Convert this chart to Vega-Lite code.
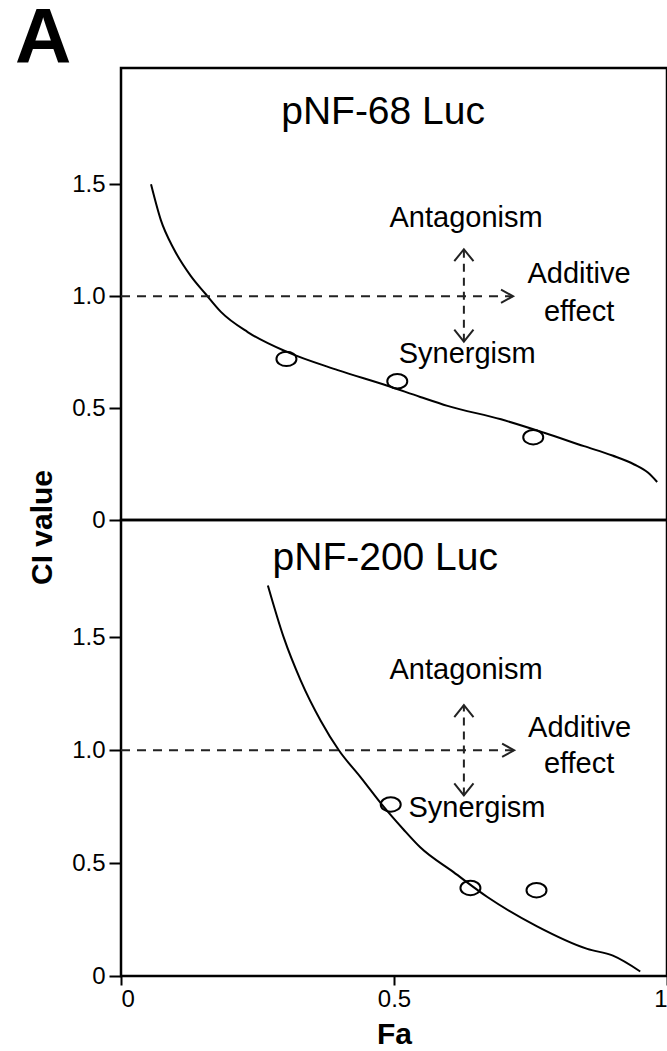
{
 "$schema": "https://vega.github.io/schema/vega-lite/v6.json",
 "background": "white",
 "padding": {"left": 15, "top": 0, "right": 0, "bottom": 0},
 "title": {"text": "A", "anchor": "start", "frame": "group", "fontSize": 78, "fontWeight": "bold", "font": "Arial", "color": "black", "dx": -106, "offset": -12},
 "config": {
   "view": {"stroke": "black", "strokeWidth": 2.5},
   "axis": {"domain": false, "grid": false, "ticks": true, "tickColor": "black", "tickWidth": 2, "labelFont": "Arial", "labelFontSize": 24, "labelColor": "black", "titleFont": "Arial", "titleFontSize": 30, "titleFontWeight": "bold", "titleColor": "black"},
   "text": {"font": "Arial", "color": "black"}
 },
 "spacing": 0,
 "bounds": "flush",
 "vconcat": [
  {
   "width": 546, "height": 452,
   "encoding": {
     "x": {"field": "x", "type": "quantitative", "scale": {"domain": [0, 1], "nice": false, "zero": false}, "axis": null},
     "y": {"field": "y", "type": "quantitative", "scale": {"domain": [0, 2.02], "nice": false}, "axis": {"values": [0, 0.5, 1, 1.5], "labelExpr": "datum.value == 0 ? '0' : format(datum.value, '.1f')", "tickSize": 12, "labelPadding": 4, "title": "CI value", "titleX": -64, "titleY": 459, "titleAngle": 270, "titleAlign": "center", "titleBaseline": "bottom"}}
   },
   "layer": [
    {"data": {"values": [
      {"x": 0.055, "y": 1.50}, {"x": 0.073, "y": 1.34}, {"x": 0.097, "y": 1.21}, {"x": 0.128, "y": 1.09},
      {"x": 0.155, "y": 1.01}, {"x": 0.183, "y": 0.93}, {"x": 0.232, "y": 0.84}, {"x": 0.305, "y": 0.75},
      {"x": 0.397, "y": 0.67}, {"x": 0.488, "y": 0.60}, {"x": 0.548, "y": 0.55}, {"x": 0.598, "y": 0.51},
      {"x": 0.696, "y": 0.45}, {"x": 0.775, "y": 0.39}, {"x": 0.848, "y": 0.33}, {"x": 0.900, "y": 0.288},
      {"x": 0.940, "y": 0.248}, {"x": 0.965, "y": 0.212}, {"x": 0.982, "y": 0.17}]},
     "mark": {"type": "line", "color": "black", "strokeWidth": 2, "interpolate": "monotone"}},
    {"data": {"values": [{"x": 0.303, "y": 0.72}, {"x": 0.506, "y": 0.62}, {"x": 0.755, "y": 0.37}]},
     "mark": {"type": "point", "shape": "M-1,0A1,0.72,0,1,1,1,0A1,0.72,0,1,1,-1,0Z", "filled": false, "size": 400, "stroke": "black", "strokeWidth": 2, "opacity": 1}},
    {"data": {"values": [{"x": 0, "x2": 0.718, "y": 1}]},
     "mark": {"type": "rule", "color": "#222", "strokeWidth": 2, "strokeDash": [9, 7]},
     "encoding": {"x2": {"field": "x2"}}},
    {"data": {"values": [{"x": 0.628, "y": 0.797, "y2": 1.21}]},
     "mark": {"type": "rule", "color": "#222", "strokeWidth": 2, "strokeDash": [8, 6]},
     "encoding": {"y2": {"field": "y2"}}},
    {"data": {"values": [{"x": 0.718, "y": 1, "dir": "right"}, {"x": 0.628, "y": 1.21, "dir": "up"}, {"x": 0.628, "y": 0.797, "dir": "down"}]},
     "mark": {"type": "point", "filled": false, "size": 576, "stroke": "#222", "strokeWidth": 2, "opacity": 1},
     "encoding": {"shape": {"field": "dir", "type": "nominal", "scale": {"domain": ["right", "up", "down"], "range": ["M-1,-0.55L0,0L-1,0.55", "M-0.8,1L0,0L0.8,1", "M-0.8,-1L0,0L0.8,-1"]}, "legend": null}}},
    {"data": {"values": [
      {"x": 0.632, "y": 1.35, "label": "Antagonism"}, {"x": 0.839, "y": 1.10, "label": "Additive"},
      {"x": 0.839, "y": 0.93, "label": "effect"}, {"x": 0.634, "y": 0.743, "label": "Synergism"}]},
     "mark": {"type": "text", "fontSize": 29, "align": "center", "baseline": "middle"},
     "encoding": {"text": {"field": "label"}}},
    {"data": {"values": [{"x": 0.48, "y": 1.825, "label": "pNF-68 Luc"}]},
     "mark": {"type": "text", "fontSize": 39, "align": "center", "baseline": "middle"},
     "encoding": {"text": {"field": "label"}}}
   ]
  },
  {
   "width": 546, "height": 456,
   "encoding": {
     "x": {"field": "x", "type": "quantitative", "scale": {"domain": [0, 1], "nice": false, "zero": false}, "axis": {"values": [0, 0.5, 1], "format": "~g", "tickSize": 9, "labelPadding": 2, "title": "Fa", "titlePadding": 8}},
     "y": {"field": "y", "type": "quantitative", "scale": {"domain": [0, 2.02], "nice": false}, "axis": {"values": [0, 0.5, 1, 1.5], "labelExpr": "datum.value == 0 ? '0' : format(datum.value, '.1f')", "tickSize": 12, "labelPadding": 4, "title": null}}
   },
   "layer": [
    {"data": {"values": [
      {"x": 0.269, "y": 1.73}, {"x": 0.298, "y": 1.50}, {"x": 0.329, "y": 1.31}, {"x": 0.366, "y": 1.13},
      {"x": 0.399, "y": 1.00}, {"x": 0.439, "y": 0.88}, {"x": 0.481, "y": 0.75}, {"x": 0.517, "y": 0.65},
      {"x": 0.548, "y": 0.57}, {"x": 0.609, "y": 0.46}, {"x": 0.671, "y": 0.35}, {"x": 0.762, "y": 0.22},
      {"x": 0.854, "y": 0.12}, {"x": 0.901, "y": 0.09}, {"x": 0.951, "y": 0.02}]},
     "mark": {"type": "line", "color": "black", "strokeWidth": 2, "interpolate": "monotone"}},
    {"data": {"values": [{"x": 0.494, "y": 0.76}, {"x": 0.640, "y": 0.39}, {"x": 0.761, "y": 0.38}]},
     "mark": {"type": "point", "shape": "M-1,0A1,0.72,0,1,1,1,0A1,0.72,0,1,1,-1,0Z", "filled": false, "size": 400, "stroke": "black", "strokeWidth": 2, "opacity": 1}},
    {"data": {"values": [{"x": 0, "x2": 0.72, "y": 1}]},
     "mark": {"type": "rule", "color": "#222", "strokeWidth": 2, "strokeDash": [9, 7]},
     "encoding": {"x2": {"field": "x2"}}},
    {"data": {"values": [{"x": 0.628, "y": 0.80, "y2": 1.20}]},
     "mark": {"type": "rule", "color": "#222", "strokeWidth": 2, "strokeDash": [8, 6]},
     "encoding": {"y2": {"field": "y2"}}},
    {"data": {"values": [{"x": 0.72, "y": 1, "dir": "right"}, {"x": 0.628, "y": 1.20, "dir": "up"}, {"x": 0.628, "y": 0.80, "dir": "down"}]},
     "mark": {"type": "point", "filled": false, "size": 576, "stroke": "#222", "strokeWidth": 2, "opacity": 1},
     "encoding": {"shape": {"field": "dir", "type": "nominal", "scale": {"domain": ["right", "up", "down"], "range": ["M-1,-0.55L0,0L-1,0.55", "M-0.8,1L0,0L0.8,1", "M-0.8,-1L0,0L0.8,-1"]}, "legend": null}}},
    {"data": {"values": [
      {"x": 0.632, "y": 1.354, "label": "Antagonism"}, {"x": 0.84, "y": 1.10, "label": "Additive"},
      {"x": 0.839, "y": 0.94, "label": "effect"}, {"x": 0.652, "y": 0.745, "label": "Synergism"}]},
     "mark": {"type": "text", "fontSize": 29, "align": "center", "baseline": "middle"},
     "encoding": {"text": {"field": "label"}}},
    {"data": {"values": [{"x": 0.484, "y": 1.85, "label": "pNF-200 Luc"}]},
     "mark": {"type": "text", "fontSize": 39, "align": "center", "baseline": "middle"},
     "encoding": {"text": {"field": "label"}}}
   ]
  }
 ]
}
